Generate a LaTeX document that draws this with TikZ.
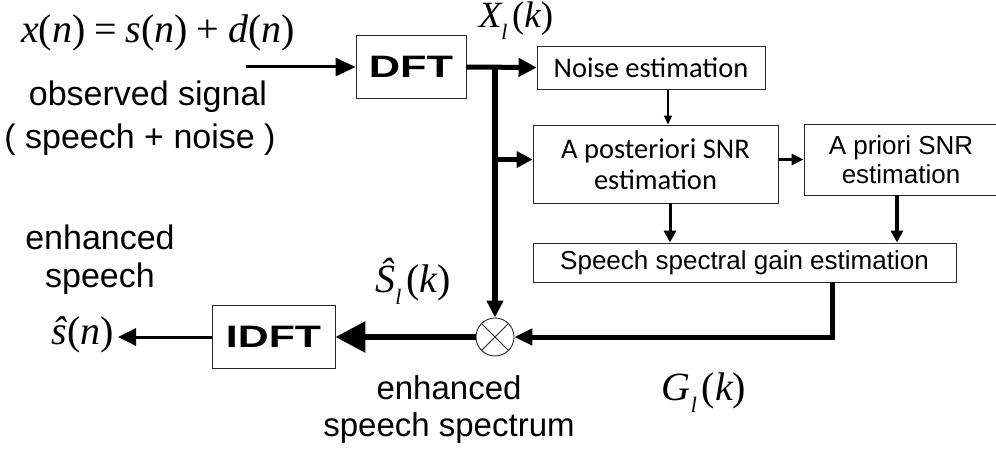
\documentclass[tikz,border=0pt]{standalone}
\usepackage{fontspec}
\usepackage{graphicx}
\setmainfont{Liberation Sans}
\newfontfamily\serifmath{Liberation Serif}
\newfontfamily\calfont{Carlito}
\usetikzlibrary{arrows.meta,calc}
\newcommand\mv[1]{{\serifmath\itshape #1}}
\newcommand\mr[1]{{\serifmath #1}}
\newcommand\subl{\raisebox{-0.3em}{\fontsize{22}{22}\selectfont\serifmath\itshape l}\hspace{0.12em}}
\newcommand\gap{\hspace{0.22em}}
\begin{document}
\begin{tikzpicture}[x=1pt,y=-1pt,
  box/.style={draw=black!85,line width=0.9pt,inner sep=0pt,align=center},
  lbl/.style={font=\fontsize{34}{40}\selectfont,inner sep=0pt,anchor=base},
  mth/.style={font=\fontsize{40}{44}\selectfont,inner sep=0pt},
  cal/.style={font=\calfont\fontsize{28.5}{33}\selectfont},
  ari/.style={font=\fontsize{26}{31}\selectfont},
  conn/.style={draw=black,line cap=butt}
]
\clip (0,0) rectangle (996,452);
% boxes
\node[box,minimum width=110,minimum height=63,font=\bfseries\fontsize{31}{31}\selectfont] (dft) at (411,67) {\scalebox{1.4}[1]{DFT}};
\node[box,cal,minimum width=228,minimum height=43] (noise) at (651,67.5) {Noise estimation};
\node[box,cal,minimum width=245,minimum height=78] (post) at (655.5,164) {A posteriori SNR\\[-2pt]estimation};
\node[box,ari,minimum width=194,minimum height=71] (prior) at (901,159.5) {A priori SNR\\[-2pt]estimation};
\node[box,ari,minimum width=423,minimum height=39] (gain) at (744.5,262.5) {Speech spectral gain estimation};
\node[draw=black!85,line width=0.9pt,circle,minimum size=38,inner sep=0pt] (circ) at (495,337) {};
\draw[line width=0.9pt,black!85] (circ.north east) -- (circ.south west) (circ.north west) -- (circ.south east);
\node[box,minimum width=123,minimum height=63,font=\bfseries\fontsize{31}{31}\selectfont] (idft) at (273.5,337) {\scalebox{1.38}[1]{IDFT}};
% text labels
\node[mth,anchor=base] (eq) at (158,43) {\mv{x}\mr{(}\mv{n}\mr{)}\gap\mr{=}\gap\mv{s}\mr{(}\mv{n}\mr{)}\gap\mr{+}\gap\mv{d}\mr{(}\mv{n}\mr{)}};
\node[mth,anchor=base,font=\fontsize{37}{40}\selectfont] (xl) at (516,28) {\mv{X}\subl\mr{(}\mv{k}\mr{)}};
\node[lbl] (obs1) at (148,106) {observed signal};
\node[lbl] (obs2) at (140,148) {( speech + noise )};
\node[lbl] (enh1) at (100,249) {enhanced};
\node[lbl] (enh2) at (100,287) {speech};
\node[mth,anchor=east] (shat) at (114,335) {\mv{\^{s}}\mr{(}\mv{n}\mr{)}};
\node[mth] (Sl) at (413,281) {\mv{\^{S}}\subl\mr{(}\mv{k}\mr{)}};
\node[mth] (Gl) at (704,393) {\mv{G}\subl\mr{(}\mv{k}\mr{)}};
\node[lbl,font=\fontsize{33}{40}\selectfont] (ess1) at (449,399) {enhanced};
\node[lbl,font=\fontsize{33}{40}\selectfont] (ess2) at (449,436) {speech spectrum};
% coordinates
\coordinate (in) at (246,67);
\coordinate (out) at (118,337);
\coordinate (bus) at (circ |- dft.east);
% connectors
\draw[conn,line width=3pt,-{Triangle[length=20,width=18]}] (in) -- (dft.west);
\draw[conn,line width=5pt,-{Triangle[length=18,width=18]}] (dft.east) -- (noise.west);
\draw[conn,line width=6pt,-{Triangle[length=17,width=16]}] ([yshift=-2.5]bus) -- (circ.north);
\draw[conn,line width=4.5pt,-{Triangle[length=16,width=16]}] (circ |- prior.west) -- (post.west |- prior.west);
\draw[conn,line width=2pt,-{Triangle[length=9,width=8]}] ([xshift=17]noise.south) -- ([xshift=17]noise.south |- post.north);
\draw[conn,line width=3pt,-{Triangle[length=12,width=12]}] ([xshift=14.5]post.south) -- ([xshift=14.5]post.south |- gain.north);
\draw[conn,line width=3pt,-{Triangle[length=12,width=11]}] (post.east |- prior.west) -- (prior.west);
\draw[conn,line width=3.5pt,-{Triangle[length=12,width=12]}] ([xshift=-4]prior.south) -- ([xshift=-4]prior.south |- gain.north);
\draw[conn,line width=5pt,line join=miter,-{Triangle[length=18,width=16]}] ([xshift=87.5]gain.south) |- (circ.east);
\draw[conn,line width=6pt,-{Triangle[length=30,width=30]}] (circ.west) -- (idft.east);
\draw[conn,line width=3pt,-{Triangle[length=18,width=17]}] (idft.west) -- (out);
\end{tikzpicture}
\end{document}
